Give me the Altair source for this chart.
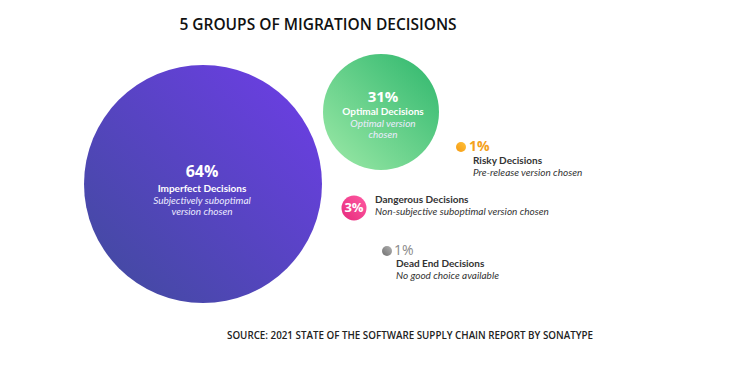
import altair as alt
import pandas as pd

# ---- data ----
categories = ["Imperfect Decisions", "Optimal Decisions", "Dangerous Decisions",
              "Risky Decisions", "Dead End Decisions"]
percents = [64, 31, 3, 1, 1]
desc_lines = [["Subjectively suboptimal", "version chosen"],
              ["Optimal version", "chosen"],
              ["Non-subjective suboptimal version chosen"],
              ["Pre-release version chosen"],
              ["No good choice available"]]
title_text = "5 GROUPS OF MIGRATION DECISIONS"
source_text = "SOURCE: 2021 STATE OF THE SOFTWARE SUPPLY CHAIN REPORT BY SONATYPE"

# ---- layout (pixel-like units of the canvas) ----
bubble_x = [203, 381, 354, 461, 387]
bubble_y = [184, 112, 208, 147, 251]
# size scale: percent -> symbol bounding-box area (px^2)
size_domain = [1, 3, 31, 64]
size_range = [100, 625, 13456, 56644]

gradients = [
    ("#3f4b9b", "#6f3de9"),
    ("#9eeaa8", "#2db66c"),
    ("#e62a7c", "#ff5aa2"),
    ("#f59a12", "#ffc23a"),
    ("#6f6f6f", "#b3b3b3"),
]

FONT = "Lato"
TFONT = "Open Sans"
W, H = 716, 372
xs = alt.Scale(domain=[8, 8 + W], range=[0, W])
ys = alt.Scale(domain=[8, 8 + H], range=[0, H])

bub = pd.DataFrame({"cat": categories, "pct": percents, "x": bubble_x, "y": bubble_y})

layers = []
for i, cat in enumerate(categories):
    c0, c1 = gradients[i]
    grad = alt.LinearGradient(
        gradient="linear",
        stops=[alt.GradientStop(color=c0, offset=0), alt.GradientStop(color=c1, offset=1)],
        x1=0, y1=1, x2=1, y2=0,
    )
    layers.append(
        alt.Chart(bub[bub.cat == cat]).mark_circle(fill=grad, opacity=1, strokeWidth=0).encode(
            x=alt.X("x:Q", scale=xs, axis=None),
            y=alt.Y("y:Q", scale=ys, axis=None),
            size=alt.Size("pct:Q", scale=alt.Scale(domain=size_domain, range=size_range, zero=False),
                          legend=None),
        )
    )

# ---- text rows ----
rows = []
def add(text, x, y, kind):
    rows.append({"text": text, "x": x, "y": y, "kind": kind})

# inside big circle
add(f"{percents[0]}%", 202, 172, "pct_in_big")
add(categories[0], 202, 189, "name_white")
add(desc_lines[0][0], 202, 201, "desc_white")
add(desc_lines[0][1], 202, 212, "desc_white")
# inside green circle
add(f"{percents[1]}%", 383, 97, "pct_in_mid")
add(categories[1], 383, 112, "name_white")
add(desc_lines[1][0], 383, 124, "desc_white")
add(desc_lines[1][1], 383, 135, "desc_white")
# dangerous
add(f"{percents[2]}%", 354, 208, "pct_pink")
add(categories[2], 375, 200, "name_dark")
add(desc_lines[2][0], 375, 212, "desc_dark")
# risky
add(f"{percents[3]}%", 469, 147, "pct_orange")
add(categories[3], 473, 161, "name_dark")
add(desc_lines[3][0], 473, 173, "desc_dark")
# dead end
add(f"{percents[4]}%", 394, 251, "pct_gray")
add(categories[4], 396, 264, "name_dark")
add(desc_lines[4][0], 396, 276, "desc_dark")
# title / source
add(title_text, 318, 25, "title")
add(source_text, 410, 336, "source")

txt = pd.DataFrame(rows)

styles = {
    "pct_in_big": dict(font=TFONT, fontSize=16, fontWeight="bold", color="white", align="center"),
    "pct_in_mid": dict(font=TFONT, fontSize=15, fontWeight="bold", color="white", align="center"),
    "name_white": dict(font=FONT, fontSize=10, fontWeight="bold", color="white", align="center"),
    "desc_white": dict(font=FONT, fontSize=10, fontStyle="italic", color="#ecebff", align="center"),
    "pct_pink": dict(font=TFONT, fontSize=13, fontWeight="bold", color="white", align="center"),
    "pct_orange": dict(font=TFONT, fontSize=14, fontWeight="bold", color="#f4a11c", align="left"),
    "pct_gray": dict(font=TFONT, fontSize=14, fontWeight="normal", color="#8a8a8a", align="left"),
    "name_dark": dict(font=FONT, fontSize=10, fontWeight="bold", color="#333333", align="left"),
    "desc_dark": dict(font=FONT, fontSize=10, fontStyle="italic", color="#333333", align="left"),
    "title": dict(font=TFONT, fontSize=15.5, fontWeight=600, color="#111111", align="center"),
    "source": dict(font=TFONT, fontSize=9.8, fontWeight=600, color="#222222", align="center"),
}

for kind, st in styles.items():
    layers.append(
        alt.Chart(txt[txt.kind == kind]).mark_text(baseline="middle", **st).encode(
            x=alt.X("x:Q", scale=xs, axis=None),
            y=alt.Y("y:Q", scale=ys, axis=None),
            text="text:N",
        )
    )

chart = alt.layer(*layers).properties(
    width=W, height=H, padding=0, autosize="none", background="white"
).configure_view(stroke=None)

chart.save("out.html", embed_options={"renderer": "svg", "actions": False})
